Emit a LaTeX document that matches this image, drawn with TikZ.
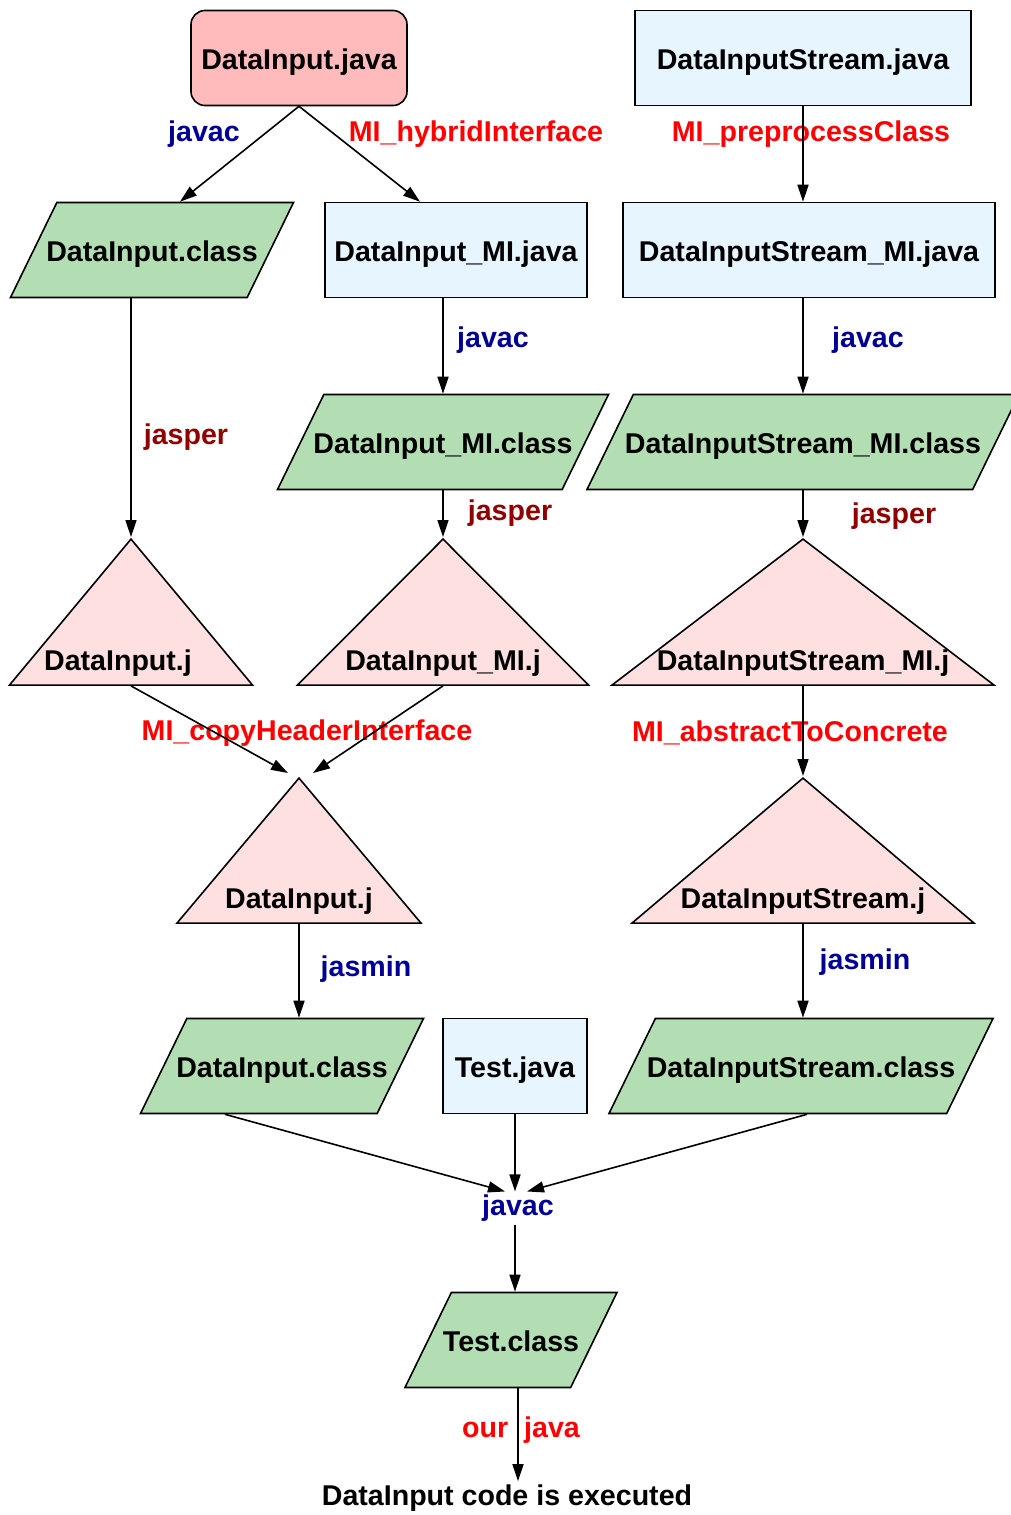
\documentclass[tikz,border=0pt]{standalone}
\usepackage{fontspec}
\setmainfont{Liberation Sans}
\usetikzlibrary{shapes.geometric,arrows.meta}
\definecolor{srcred}{RGB}{255,187,187}
\definecolor{srcblue}{RGB}{230,245,255}
\definecolor{clsgreen}{RGB}{179,222,179}
\definecolor{jpink}{RGB}{255,224,224}
\definecolor{toolblue}{RGB}{0,0,150}
\definecolor{tooldark}{RGB}{145,0,0}
\definecolor{toolred}{RGB}{255,0,0}
\newcommand\cname[1]{\makebox[0pt]{#1}}
\tikzset{
  every node/.style={font=\fontsize{28.6}{34}\selectfont\bfseries},
  src/.style={draw, line width=1.6pt, fill=srcblue, minimum height=95pt, inner sep=0pt,
    text height=24pt, text depth=2pt},
  cls/.style={trapezium, trapezium left angle=64, trapezium right angle=116,
    trapezium stretches body, draw, line width=1.6pt, fill=clsgreen,
    text height=24pt, text depth=2pt, inner xsep=0pt, inner ysep=34.5pt},
  jfile/.style={isosceles triangle, shape border rotate=90, isosceles triangle stretches,
    draw, line width=1.6pt, fill=jpink, inner sep=0pt, anchor=apex},
  jname/.style={anchor=base, yshift=15pt},
  javac/.style={text=toolblue},
  jasper/.style={text=tooldark},
  mi/.style={text=toolred},
  arr/.style={-{Triangle[length=17pt,width=11pt]}, line width=1.6pt}
}
\begin{document}
\begin{tikzpicture}[x=1pt,y=-1pt]
  \useasboundingbox (0,0) rectangle (1010,1515);

  \node[src, fill=srcred, rounded corners=14pt, minimum width=216pt] (dij) at (299,58) {DataInput.java};
  \node[src, minimum width=336pt] (dis) at (803,58) {DataInputStream.java};
  \node[cls, minimum width=283pt] (dic) at (152,250) {\cname{DataInput.class}};
  \node[src, minimum width=262pt] (dimj) at (456,250) {DataInput\_MI.java};
  \node[src, minimum width=372pt] (dismj) at (809,250) {DataInputStream\_MI.java};
  \node[cls, minimum width=331pt] (dimc) at (443,442) {\cname{DataInput\_MI.class}};
  \node[cls, minimum width=432pt] (dismc) at (803,442) {\cname{DataInputStream\_MI.class}};

  \node[jfile, minimum width=243pt, minimum height=146pt] (dj) at (131,537) {};
  \node[jname, xshift=-13pt] (djt) at (dj.lower side) {DataInput.j};
  \node[jfile, minimum width=291pt, minimum height=146pt] (dmj) at (443,537) {};
  \node[jname] (dmjt) at (dmj.lower side) {DataInput\_MI.j};
  \node[jfile, minimum width=382pt, minimum height=146pt] (dsmj) at (803,537) {};
  \node[jname] (dsmjt) at (dsmj.lower side) {DataInputStream\_MI.j};
  \node[jfile, minimum width=244pt, minimum height=145pt] (dj2) at (299,776) {};
  \node[jname] (dj2t) at (dj2.lower side) {DataInput.j};
  \node[jfile, minimum width=342pt, minimum height=145pt] (dsj) at (803,776) {};
  \node[jname] (dsjt) at (dsj.lower side) {DataInputStream.j};

  \node[cls, minimum width=283pt] (dicb) at (282,1066) {\cname{DataInput.class}};
  \node[src, minimum width=144pt] (tj) at (515,1066) {Test.java};
  \node[cls, minimum width=384pt] (discb) at (801,1066) {\cname{DataInputStream.class}};
  \node[javac, inner sep=3pt] (jc) at (518,1208) {javac};
  \node[cls, minimum width=212pt] (tc) at (511,1340) {\cname{Test.class}};
  \node (run) at (507,1498) {DataInput code is executed};

  \node[javac] (l1) at (204,134) {javac};
  \node[mi] (l2) at (476,134) {MI\_hybridInterface};
  \node[mi] (l3) at (811,134) {MI\_preprocessClass};
  \node[jasper] (l4) at (186,437) {jasper};
  \node[javac] (l5) at (493,340) {javac};
  \node[javac] (l6) at (868,340) {javac};
  \node[jasper] (l7) at (510,513) {jasper};
  \node[jasper] (l8) at (894,516) {jasper};
  \node[mi] (l9) at (307,733) {MI\_copyHeaderInterface};
  \node[mi] (l10) at (790,733) {MI\_abstractToConcrete};
  \node[javac] (l11) at (366,969) {jasmin};
  \node[javac] (l12) at (865,962) {jasmin};
  \node[mi] (l13) at (521,1430) {our\hspace{16pt}java};

  \draw[arr] (dij.south) -- ([xshift=28pt]dic.north);
  \draw[arr] (dij.south) -- ([xshift=-36pt]dimj.north);
  \draw[arr] (dis.south) -- (dis.south |- dismj.north);
  \draw[arr] (dj.apex |- dic.south) -- (dj.apex);
  \draw[arr] (dimc.north |- dimj.south) -- (dimc.north);
  \draw[arr] (dismc.north |- dismj.south) -- (dismc.north);
  \draw[arr] (dimc.south) -- (dmj.apex);
  \draw[arr] (dismc.south) -- (dsmj.apex);
  \draw[arr] (dj.lower side) -- ([xshift=-11pt,yshift=3pt]dj2.apex);
  \draw[arr] (dmj.lower side) -- ([xshift=14pt,yshift=3pt]dj2.apex);
  \draw[arr] (dsmj.lower side) -- (dsj.apex);
  \draw[arr] (dj2.lower side) -- (dj2.lower side |- dicb.north);
  \draw[arr] (dsj.lower side) -- (dsj.lower side |- discb.north);
  \draw[arr] ([xshift=-57pt]dicb.south) -- ([xshift=-13pt]jc.north);
  \draw[arr] (tj.south) -- (tj.south |- jc.north);
  \draw[arr] ([xshift=6pt]discb.south) -- ([xshift=9pt]jc.north);
  \draw[arr] (tj.south |- jc.south) -- (tj.south |- tc.north);
  \draw[arr] ([xshift=7pt]tc.south) -- ([xshift=7pt]tc.south |- run.north);
\end{tikzpicture}
\end{document}
